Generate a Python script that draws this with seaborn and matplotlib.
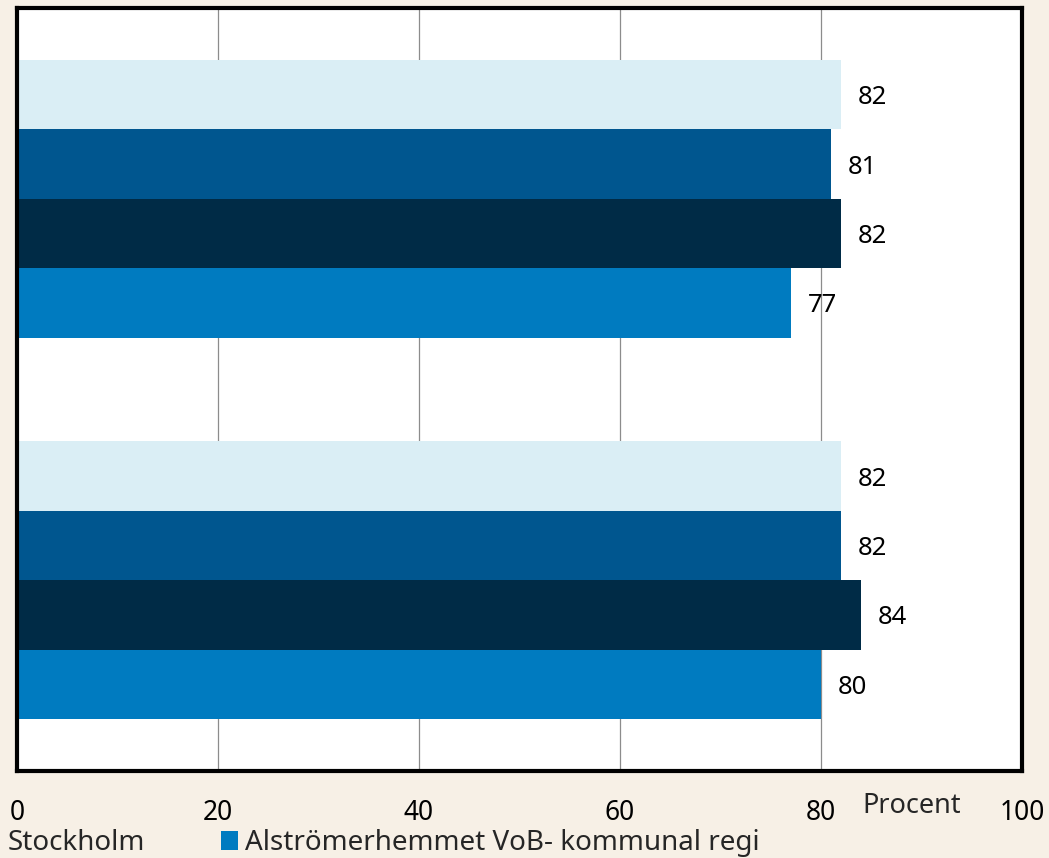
import pandas as pd
import matplotlib.pyplot as plt
import seaborn as sns
from matplotlib.patches import Patch

# data
groups = ['Grupp 1', 'Grupp 2']
series = ['Serie A', 'Serie B', 'Stockholm', 'Alströmerhemmet VoB- kommunal regi']
values_g1 = [82, 81, 82, 77]
values_g2 = [82, 82, 84, 80]
colors = ['#daeef5', '#00568f', '#002b46', '#007bc0']
xticks = [0, 20, 40, 60, 80, 100]

rows = []
for g, vals in zip(groups, [values_g1, values_g2]):
    for s, v in zip(series, vals):
        rows.append({'grupp': g, 'serie': s, 'procent': v})
df = pd.DataFrame(rows)

bg = '#f7f0e6'
sns.set_style('white')
plt.rcParams['font.family'] = ['Noto Sans', 'DejaVu Sans']

fig = plt.figure(figsize=(10.49, 8.58), dpi=100, facecolor=bg)
ax = fig.add_axes([17 / 1049, 1 - 771 / 858, 1005 / 1049, 763 / 858])
ax.set_facecolor('white')

sns.barplot(data=df, y='grupp', x='procent', hue='serie', order=groups,
            hue_order=series, palette=colors, orient='h', width=0.728,
            saturation=1, ax=ax, legend=False, linewidth=0)

ax.set_xlim(0, 100)
ax.set_ylim(1.5, -0.5)
ax.set_xticks(xticks)
ax.set_xticklabels([str(t) for t in xticks], fontsize=19)
ax.set_yticks([])
ax.set_xlabel('')
ax.set_ylabel('')
ax.tick_params(axis='x', length=0, pad=20, colors='black')
ax.xaxis.grid(True, color='#8c8c8c', linewidth=0.9)
ax.set_axisbelow(True)
for sp in ax.spines.values():
    sp.set_visible(True)
    sp.set_color('black')
    sp.set_linewidth(3)

for cont in ax.containers:
    labels = ax.bar_label(cont, fmt='%d', padding=12, fontsize=18.5, color='black')
    for t in labels:
        t.set_va('center_baseline')

fig.text(912 / 1049, 1 - 806 / 858, 'Procent', fontsize=19.5, ha='center', va='center')
fig.text(8 / 1049, 1 - 843 / 858, 'Stockholm', fontsize=20, ha='left', va='center')

handle = [Patch(facecolor=colors[3], edgecolor='none')]
fig.legend(handle, [series[3]], loc='center left', bbox_to_anchor=(221 / 1049, 1 - 843 / 858),
           frameon=False, fontsize=20, handlelength=0.6, handleheight=0.7,
           handletextpad=0.25, borderpad=0, borderaxespad=0)

fig.savefig('out.png', dpi=100, facecolor=bg)
